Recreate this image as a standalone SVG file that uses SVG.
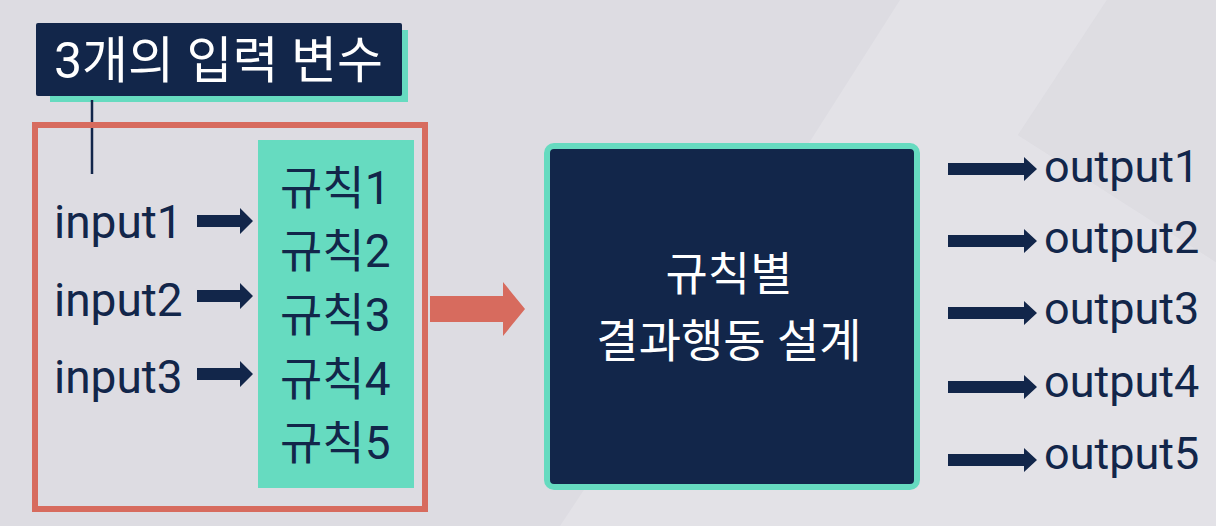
<svg xmlns="http://www.w3.org/2000/svg" width="1216" height="526" viewBox="0 0 1216 526">
  <style>
    .t { font-family: "Roboto", "Noto Sans CJK KR", sans-serif; }
    .dark { fill: #12264a; }
    .white { fill: #ffffff; }
  </style>
  <defs>
    <path id="inArrow" d="M0,-6 H43 V-13 L56,0 L43,13 V6 H0 Z" fill="#12264a"/>
    <path id="outArrow" d="M0,-6 H76 V-12 L89,0 L76,12 V6 H0 Z" fill="#12264a"/>
  </defs>

  <!-- background -->
  <rect x="0" y="0" width="1216" height="526" fill="#dddce2"/>
  <polygon points="900,0 1107,0 1018,135 1216,262 1216,526 560,526 690,330" fill="#e3e2e7"/>
  <polygon points="1107,0 1216,0 1216,262 1018,135" fill="#dedde2"/>

  <!-- title -->
  <g id="title">
    <rect x="50" y="30" width="358" height="72" fill="#66dbc0"/>
    <rect x="36" y="23" width="366" height="73" rx="2" fill="#12264a"/>
    <text class="t white" x="54" y="78" font-size="50">3개의 입력 변수</text>
    <line x1="92" y1="100" x2="92" y2="174" stroke="#12264a" stroke-width="2.5"/>
  </g>

  <!-- input group -->
  <g id="inputs">
    <rect x="35" y="125" width="390" height="384" fill="none" stroke="#d76b5e" stroke-width="6"/>
    <text class="t dark" x="54" y="238" font-size="46">input1</text>
    <text class="t dark" x="54" y="316" font-size="46">input2</text>
    <text class="t dark" x="54" y="393" font-size="46">input3</text>
  </g>

  <g id="rules">
    <rect x="258" y="140" width="156" height="348" fill="#66dbc0"/>
    <text class="t dark" x="280" y="204" font-size="46">규칙1</text>
    <text class="t dark" x="280" y="267" font-size="46">규칙2</text>
    <text class="t dark" x="280" y="331" font-size="46">규칙3</text>
    <text class="t dark" x="280" y="395" font-size="46">규칙4</text>
    <text class="t dark" x="280" y="459" font-size="46">규칙5</text>
  </g>

  <g id="design">
    <rect x="547" y="146" width="370" height="341" rx="7" fill="#12264a" stroke="#66dbc0" stroke-width="6"/>
    <text class="t white" x="729" y="290" font-size="46" text-anchor="middle">규칙별</text>
    <text class="t white" x="729" y="357" font-size="46" text-anchor="middle">결과행동 설계</text>
  </g>

  <g id="outputs">
    <text class="t dark" x="1044" y="182" font-size="45">output1</text>
    <text class="t dark" x="1044" y="253" font-size="45">output2</text>
    <text class="t dark" x="1044" y="324" font-size="45">output3</text>
    <text class="t dark" x="1044" y="397" font-size="45">output4</text>
    <text class="t dark" x="1044" y="469" font-size="45">output5</text>
  </g>

  <g id="connectors">
    <use href="#inArrow" x="197" y="221"/>
    <use href="#inArrow" x="197" y="296"/>
    <use href="#inArrow" x="197" y="374"/>
    <path d="M430,296 H503 V282 L525,309 L503,336 V322 H430 Z" fill="#d76b5e"/>
    <use href="#outArrow" x="948" y="169"/>
    <use href="#outArrow" x="948" y="241"/>
    <use href="#outArrow" x="948" y="313"/>
    <use href="#outArrow" x="948" y="387"/>
    <use href="#outArrow" x="948" y="460"/>
  </g>
</svg>
